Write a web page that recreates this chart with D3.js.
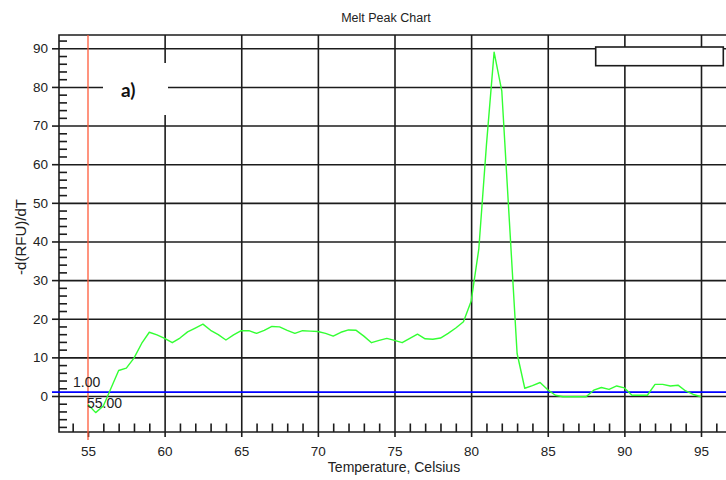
<!DOCTYPE html>
<html>
<head>
<meta charset="utf-8">
<script src="https://cdn.jsdelivr.net/npm/d3@7"></script>
<style>
  html, body { margin: 0; padding: 0; background: #fff; }
  svg { display: block; font-family: "Liberation Sans", Arial, sans-serif; }
</style>
</head>
<body>
<svg id="chart" width="726" height="480"></svg>
<script>
// ---- data ----
const temperatures = [55.0,55.5,56.0,56.5,57.0,57.5,58.0,58.5,59.0,59.5,60.0,60.5,61.0,61.5,62.0,62.5,63.0,63.5,64.0,64.5,
  65.0,65.5,66.0,66.5,67.0,67.5,68.0,68.5,69.0,69.5,70.0,70.5,71.0,71.5,72.0,72.5,73.0,73.5,74.0,74.5,
  75.0,75.5,76.0,76.5,77.0,77.5,78.0,78.5,79.0,79.5,80.0,80.5,81.0,81.5,82.0,82.5,83.0,83.5,84.0,84.5,
  85.0,85.5,86.0,86.5,87.0,87.5,88.0,88.5,89.0,89.5,90.0,90.5,91.0,91.5,92.0,92.5,93.0,93.5,94.0,94.5,95.0];
const meltValues = [-2.2,-4.3,-2.6,2.0,6.6,7.2,9.8,13.6,16.5,15.8,14.9,13.8,15.0,16.6,17.6,18.6,17.0,15.9,14.5,15.8,
  16.9,16.9,16.2,17.0,18.0,17.9,17.0,16.2,16.9,16.8,16.7,16.2,15.5,16.5,17.1,17.0,15.5,13.8,14.4,14.9,
  14.4,13.8,14.9,16.0,14.8,14.7,15.0,16.2,17.6,19.2,24.5,38.0,65.0,89.0,79.0,45.0,11.0,2.0,2.7,3.5,
  1.6,0.2,-0.2,-0.2,-0.2,-0.2,1.5,2.2,1.7,2.6,2.1,0.2,0.2,0.2,3.0,3.0,2.6,2.8,1.3,0.4,-0.2];
const xTickLabels = [55,60,65,70,75,80,85,90,95];
const xMinorTicks = [54,56,57,58,59,61,62,63,64,66,67,68,69,71,72,73,74,76,77,78,79,81,82,83,84,86,87,88,89,91,92,93,94,96];
const yTickLabels = [0,10,20,30,40,50,60,70,80,90];
const yMinorTicks = [-8,-6,-4,-2,2,4,6,8,12,14,16,18,22,24,26,28,32,34,36,38,42,44,46,48,52,54,56,58,62,64,66,68,72,74,76,78,82,84,86,88,92];
const thresholdY = 1.00;
const thresholdX = 55.00;
const chartTitle = "Melt Peak Chart";
const xTitle = "Temperature, Celsius";
const yTitle = "-d(RFU)/dT";
const panelLabel = "a)";

// ---- layout ----
const svg = d3.select("#chart");
const plotLeft = 59, plotTop = 35, plotBottom = 432, plotRight = 760;
const x = d3.scaleLinear().domain([55, 95]).range([88, 701]);
const y = d3.scaleLinear().domain([0, 90]).range([396, 48.3]);
const gridColor = "#1c1c1c";
const gridWidth = 1.6;

// horizontal gridlines + major y ticks
const yGrid = svg.append("g").attr("transform", `translate(${plotLeft},0)`)
  .call(d3.axisLeft(y).tickValues(yTickLabels).tickSize(7).tickPadding(4).tickFormat(d3.format("d")));
yGrid.select(".domain").remove();
yGrid.selectAll(".tick line").clone().attr("x1", 0).attr("x2", plotRight - plotLeft);
yGrid.selectAll(".tick line").attr("stroke", gridColor).attr("stroke-width", gridWidth);
yGrid.selectAll("text").attr("font-size", 13.5).attr("fill", "#222");

// minor y ticks
const yMinor = svg.append("g").attr("transform", `translate(${plotLeft},0)`)
  .call(d3.axisLeft(y).tickValues(yMinorTicks).tickSize(-8).tickFormat(""));
yMinor.select(".domain").remove();
yMinor.selectAll("line").attr("stroke", gridColor).attr("stroke-width", gridWidth);

// vertical gridlines + major x ticks
const xGrid = svg.append("g").attr("transform", `translate(0,${plotBottom})`)
  .call(d3.axisBottom(x).tickValues(xTickLabels).tickSize(5).tickPadding(9).tickFormat(d3.format("d")));
xGrid.select(".domain").remove();
xGrid.selectAll(".tick").filter(d => d !== thresholdX).select("line").clone().attr("y1", 0).attr("y2", plotTop - plotBottom);
xGrid.selectAll(".tick line").attr("stroke", gridColor).attr("stroke-width", gridWidth);
xGrid.selectAll("text").attr("font-size", 13.5).attr("fill", "#222");

// minor x ticks
const xMinor = svg.append("g").attr("transform", `translate(0,${plotBottom})`)
  .call(d3.axisBottom(x).tickValues(xMinorTicks).tickSize(-8.5).tickFormat(""));
xMinor.select(".domain").remove();
xMinor.selectAll("line").attr("stroke", gridColor).attr("stroke-width", gridWidth);

// plot border
svg.append("path")
  .attr("d", `M${plotRight},${plotTop}H${plotLeft}V${plotBottom}H${plotRight}`)
  .attr("fill", "none").attr("stroke", gridColor).attr("stroke-width", gridWidth);

// red vertical threshold line at 55
svg.append("line")
  .attr("x1", x(thresholdX)).attr("x2", x(thresholdX))
  .attr("y1", plotTop).attr("y2", 440)
  .attr("stroke", "#ff5a3a").attr("stroke-width", 1.3);

// blue horizontal threshold line
svg.append("line")
  .attr("x1", 52).attr("x2", plotRight)
  .attr("y1", y(thresholdY)).attr("y2", y(thresholdY))
  .attr("stroke", "#0000ff").attr("stroke-width", 1.6);

// melt curve
const line = d3.line().x((d, i) => x(temperatures[i])).y(d => y(d));
svg.append("path")
  .datum(meltValues)
  .attr("d", line)
  .attr("fill", "none")
  .attr("stroke", "#33ff33")
  .attr("stroke-width", 1.4)
  .attr("stroke-linejoin", "round");

// threshold labels
svg.append("text").attr("x", 73).attr("y", 387).attr("font-size", 14).attr("fill", "#222").text(thresholdY.toFixed(2));
svg.append("text").attr("x", 87).attr("y", 408).attr("font-size", 14).attr("fill", "#222").text(thresholdX.toFixed(2));

// panel label box "a)"
svg.append("rect").attr("x", 103).attr("y", 63).attr("width", 65).attr("height", 52).attr("fill", "#fff");
svg.append("text").attr("x", 121).attr("y", 97)
  .attr("font-family", "Lato, 'Open Sans', sans-serif").attr("font-weight", "bold")
  .attr("font-size", 19).attr("fill", "#111").text(panelLabel);

// legend box (empty) top-right
svg.append("rect").attr("x", 595.7).attr("y", 47).attr("width", 127.6).attr("height", 18.7)
  .attr("fill", "#fff").attr("stroke", gridColor).attr("stroke-width", gridWidth);

// titles
svg.append("text").attr("x", 386).attr("y", 22).attr("text-anchor", "middle")
  .attr("font-size", 12.5).attr("fill", "#222").text(chartTitle);
svg.append("text").attr("x", 394).attr("y", 472).attr("text-anchor", "middle")
  .attr("font-size", 14).attr("fill", "#222").text(xTitle);
svg.append("text").attr("transform", "translate(26,237) rotate(-90)").attr("text-anchor", "middle")
  .attr("font-size", 15).attr("fill", "#222").text(yTitle);
</script>
</body>
</html>
